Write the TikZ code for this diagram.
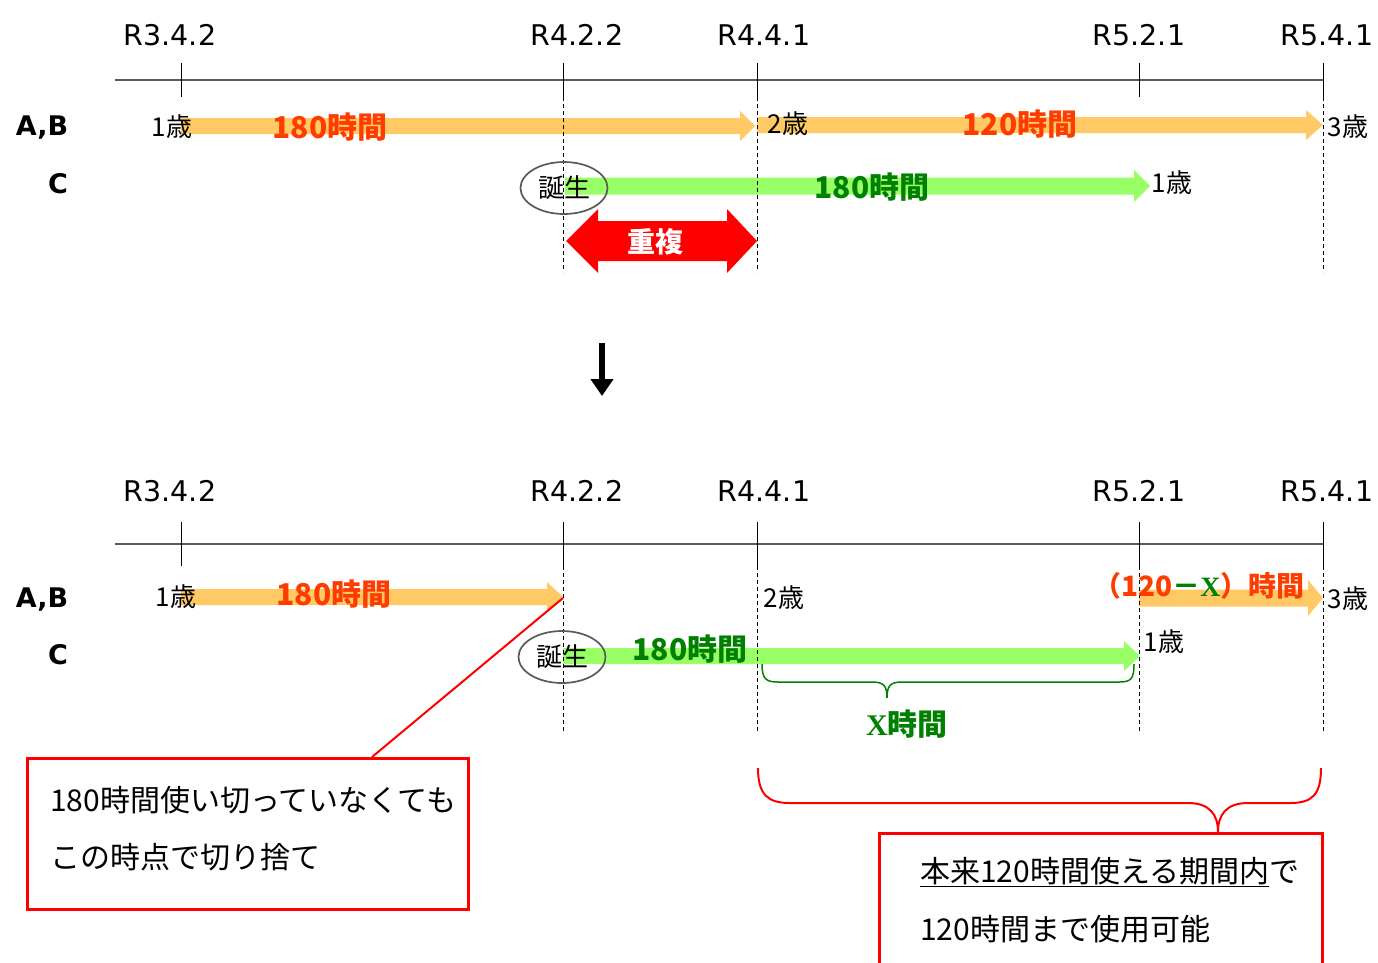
\documentclass[tikz,border=0pt]{standalone}
\usepackage{fontspec}
\setmainfont{DejaVu Sans}
\newfontfamily\jp{Noto Sans CJK JP}
\newfontfamily\lat{DejaVu Sans}
\newfontfamily\ser{Liberation Serif}
\usetikzlibrary{arrows.meta,shapes.geometric}
\definecolor{orfill}{RGB}{255,201,102}
\definecolor{ortext}{RGB}{255,60,0}
\definecolor{grfill}{RGB}{153,255,102}
\definecolor{grtext}{RGB}{0,128,0}
\definecolor{ellgray}{RGB}{90,90,90}
\definecolor{axisgray}{RGB}{90,90,90}
\newcommand{\fatarr}[7]{\fill[#1] (#2,#4-#5) -- (#3-#7,#4-#5) -- (#3-#7,#4-#6) -- (#3,#4) -- (#3-#7,#4+#6) -- (#3-#7,#4+#5) -- (#2,#4+#5) -- cycle;}
\tikzset{
  rlab/.style={font=\lat\fontsize{28.5}{30}\selectfont, inner sep=0},
  rowlab/.style={font=\lat\bfseries\fontsize{27}{30}\selectfont, inner sep=0},
  agelab/.style={font=\jp\fontsize{26}{28}\selectfont, inner sep=0},
  hrsO/.style={font=\jp\bfseries\fontsize{30}{32}\selectfont, text=ortext, inner sep=0},
  hrsG/.style={font=\jp\bfseries\fontsize{30}{32}\selectfont, text=grtext, inner sep=0},
  boxtxt/.style={font=\jp\fontsize{30}{32}\selectfont, inner sep=0, anchor=west},
  axisln/.style={draw=axisgray, line width=2pt},
  tickln/.style={draw=black, line width=1pt},
  dashln/.style={draw=black, line width=0.9pt, dash pattern=on 4pt off 3pt},
  birth/.style={draw=ellgray, line width=1.7pt, ellipse, minimum width=87pt, minimum height=52pt, inner sep=0, font=\jp\fontsize{26}{28}\selectfont},
  notebox/.style={draw=red, line width=2.5pt, inner sep=0, anchor=north west},
  redln/.style={draw=red, line width=2pt},
}
\begin{document}
\begin{tikzpicture}[x=1pt,y=-1pt]
\useasboundingbox (0,0) rectangle (1378,962);

% ================= TOP =================
\coordinate (tL) at (115,80); \coordinate (tR) at (1323,80);
\draw[axisln] (tL) -- (tR);
\foreach \x in {181,563,757,1139,1323} \draw[tickln] (\x,63) -- (\x,97);
\node[rlab] (ta) at (170,35) {R3.4.2};
\node[rlab] (tb) at (577,35) {R4.2.2};
\node[rlab] (tc) at (764,35) {R4.4.1};
\node[rlab] (td) at (1139,35) {R5.2.1};
\node[rlab] (te) at (1327,35) {R5.4.1};
\node[rowlab] (tab) at (42,128) {A,B};
\node[rowlab] (tcc) at (58,184) {C};

\fatarr{orfill}{181}{755}{126}{8}{15}{15}
\fatarr{orfill}{757}{1323}{125}{8}{15}{17}
\fatarr{grfill}{565}{1150}{186}{8.5}{16}{16}
\fill[red] (566,241) -- (598,209) -- (598,221) -- (727,221) -- (727,209) -- (757,241) -- (727,273) -- (727,261) -- (598,261) -- (598,273) -- cycle;

\foreach \x in {563,757,1323} \draw[dashln] (\x,97) -- (\x,272);

\node[birth] (b1) at (564,188) {誕生};
\node[agelab] (a1) at (172,127) {1歳};
\node[agelab] (a2) at (788,124) {2歳};
\node[agelab] (a3) at (1348,127) {3歳};
\node[agelab] (a4) at (1172,183) {1歳};
\node[hrsO] (h1) at (330,127) {180時間};
\node[hrsO] (h2) at (1020,124) {120時間};
\node[hrsG] (h3) at (872,187) {180時間};
\node[font=\jp\bfseries\fontsize{28}{30}\selectfont, text=white, inner sep=0] (dup) at (655,242) {重複};

% down arrow
\coordinate (dA) at (602,343); \coordinate (dB) at (602,396);
\draw[line width=5.5pt,-{Triangle[width=22pt,length=17pt]}] (dA) -- (dB);

% ================= BOTTOM =================
\coordinate (bL) at (115,544); \coordinate (bR) at (1323,544);
\draw[axisln] (bL) -- (bR);
\foreach \x in {181,563,757,1139,1323} \draw[tickln] (\x,522) -- (\x,566);
\node[rlab] (ba) at (170,491) {R3.4.2};
\node[rlab] (bb) at (577,491) {R4.2.2};
\node[rlab] (bc) at (764,491) {R4.4.1};
\node[rlab] (bd) at (1139,491) {R5.2.1};
\node[rlab] (be) at (1327,491) {R5.4.1};
\node[rowlab] (bab) at (42,600) {A,B};
\node[rowlab] (bcc) at (58,655) {C};

\fatarr{orfill}{181}{563}{597}{8}{15}{16}
\fatarr{orfill}{1139}{1323}{598}{8.5}{18}{15}
\fatarr{grfill}{563}{1140}{656}{8}{15}{16}

\foreach \x in {563,757,1139,1323} \draw[dashln] (\x,566) -- (\x,732);

\node[birth] (b2) at (562,657) {誕生};
\node[agelab] (c1) at (176,597) {1歳};
\node[agelab] (c2) at (784,598) {2歳};
\node[agelab] (c3) at (1348,599) {3歳};
\node[agelab] (c4) at (1164,642) {1歳};
\node[hrsO] (g1) at (334,594) {180時間};
\node[hrsG] (g2) at (690,649) {180時間};
\node[hrsO, anchor=west, font=\jp\bfseries\fontsize{28}{30}\selectfont] (g3) at (1093,586) {（120{\color{grtext}－{\ser\bfseries X}}）時間};

% green brace
\draw[draw=grtext, line width=1.5pt] (762,664) .. controls (762,679) and (766,682) .. (778,682) -- (872,682) .. controls (884,682) and (887,686) .. (887,698) .. controls (887,686) and (890,682) .. (902,682) -- (1119,682) .. controls (1131,682) and (1134,679) .. (1134,664);
\node[hrsG] (xh) at (907,724) {{\ser\bfseries X}時間};

% left note
\coordinate (tipB) at (563,598);
\node[notebox, minimum width=441pt, minimum height=151pt] (lbox) at (26,757) {};
\draw[redln] (tipB) -- ([xshift=346pt]lbox.north west);
\node[boxtxt] (l1) at (50,800) {180時間使い切っていなくても};
\node[boxtxt] (l2) at (50,857) {この時点で切り捨て};

% red brace
\node[notebox, minimum width=443pt, minimum height=170pt] (rbox) at (878,832) {};
\coordinate (rtip) at ([xshift=340pt]rbox.north west);
\draw[redln] (758,768) .. controls (758,795) and (768,803) .. (790,803) -- (1188,803) .. controls (1210,803) and (1218,815) .. (rtip) .. controls (1218,815) and (1226,803) .. (1248,803) -- (1290,803) .. controls (1312,803) and (1321,795) .. (1321,768);
\node[boxtxt] (r1) at (920,872) {\underline{本来120時間使える期間内}で};
\node[boxtxt] (r2) at (920,929) {120時間まで使用可能};
\end{tikzpicture}
\end{document}
